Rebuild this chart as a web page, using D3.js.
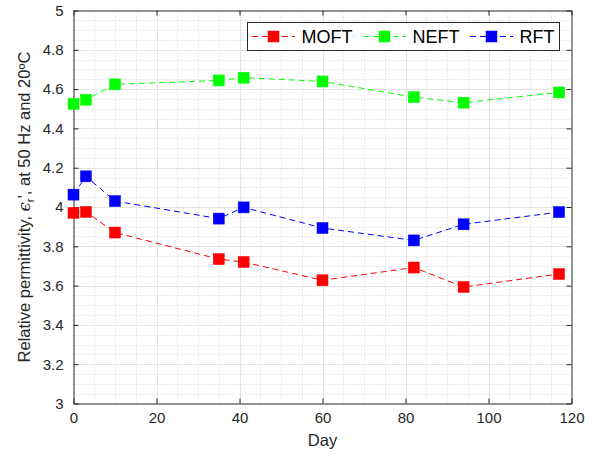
<!DOCTYPE html>
<html>
<head>
<meta charset="utf-8">
<script src="https://cdn.jsdelivr.net/npm/d3@7"></script>
<style>
  html, body { margin: 0; padding: 0; background: #fff; }
  svg { display: block; font-family: "Liberation Sans", Arial, Helvetica, sans-serif; }
</style>
</head>
<body>
<svg id="chart" width="595" height="457"></svg>
<script>
// Measurement days and relative permittivity of each fluid
const days = [0, 3, 10, 35, 41, 60, 82, 94, 117];
const moft = [3.970, 3.975, 3.870, 3.735, 3.720, 3.627, 3.692, 3.593, 3.659];
const neft = [4.525, 4.546, 4.624, 4.644, 4.658, 4.639, 4.559, 4.531, 4.583];
const rft  = [4.063, 4.156, 4.030, 3.941, 3.998, 3.893, 3.830, 3.912, 3.974];

const seriesNames = ["MOFT", "NEFT", "RFT"];
const seriesColors = ["#ff0000", "#00ff00", "#0000ff"];
const seriesValues = [moft, neft, rft];

const xTicks = [0, 20, 40, 60, 80, 100, 120];
const yTicks = [3, 3.2, 3.4, 3.6, 3.8, 4, 4.2, 4.4, 4.6, 4.8, 5];

const plotL = 73.5, plotR = 571.5, plotT = 10.5, plotB = 403.5;
const ink = "#262626";

const svg = d3.select("#chart");
const x = d3.scaleLinear().domain([0, 120]).range([plotL, plotR]);
const y = d3.scaleLinear().domain([3, 5]).range([plotB, plotT]);

// minor grid (dotted)
const grid = svg.append("g");
const xMinor = d3.range(0, 121, 5).filter(v => v % 20 !== 0);
const yMinor = d3.range(0, 41).map(i => 3 + i * 0.05).filter((v, i) => i % 4 !== 0);
grid.selectAll("line.xm").data(xMinor).join("line")
  .attr("x1", d => Math.round(x(d)) + 0.5).attr("x2", d => Math.round(x(d)) + 0.5)
  .attr("y1", plotT).attr("y2", plotB)
  .attr("stroke", "#d9d9d9").attr("stroke-width", 1).attr("stroke-dasharray", "1,2");
grid.selectAll("line.ym").data(yMinor).join("line")
  .attr("y1", d => Math.round(y(d)) + 0.5).attr("y2", d => Math.round(y(d)) + 0.5)
  .attr("x1", plotL).attr("x2", plotR)
  .attr("stroke", "#d9d9d9").attr("stroke-width", 1).attr("stroke-dasharray", "1,2");

// major grid (solid light)
grid.selectAll("line.xM").data(xTicks.slice(1, -1)).join("line")
  .attr("x1", d => Math.round(x(d)) + 0.5).attr("x2", d => Math.round(x(d)) + 0.5)
  .attr("y1", plotT).attr("y2", plotB)
  .attr("stroke", "#e3e3e3").attr("stroke-width", 1);
grid.selectAll("line.yM").data(yTicks.slice(1, -1)).join("line")
  .attr("y1", d => Math.round(y(d)) + 0.5).attr("y2", d => Math.round(y(d)) + 0.5)
  .attr("x1", plotL).attr("x2", plotR)
  .attr("stroke", "#e3e3e3").attr("stroke-width", 1);

// axes: ticks inward on all four sides
const tickLen = 5;
const fmt = d => (Math.round(d * 10) / 10).toString();
const axB = svg.append("g").attr("transform", `translate(0,${plotB})`)
  .call(d3.axisBottom(x).tickValues(xTicks).tickSizeInner(-tickLen).tickSizeOuter(0).tickPadding(9).tickFormat(fmt));
const axT = svg.append("g").attr("transform", `translate(0,${plotT})`)
  .call(d3.axisTop(x).tickValues(xTicks).tickSizeInner(-tickLen).tickSizeOuter(0).tickFormat(""));
const axL = svg.append("g").attr("transform", `translate(${plotL},0)`)
  .call(d3.axisLeft(y).tickValues(yTicks).tickSizeInner(-tickLen).tickSizeOuter(0).tickPadding(10).tickFormat(fmt));
const axR = svg.append("g").attr("transform", `translate(${plotR},0)`)
  .call(d3.axisRight(y).tickValues(yTicks).tickSizeInner(-tickLen).tickSizeOuter(0).tickFormat(""));
[axB, axT, axL, axR].forEach(g => {
  g.select(".domain").attr("stroke", ink).attr("stroke-width", 1);
  g.selectAll(".tick line").attr("stroke", ink).attr("stroke-width", 1);
  g.selectAll(".tick text").attr("fill", ink).attr("font-size", 15)
    .attr("font-family", "Liberation Sans, Arial, sans-serif");
});

// series: dashed lines with square markers
const ms = 11;
seriesValues.forEach((vals, si) => {
  const pts = days.map((d, i) => [d, vals[i]]);
  const g = svg.append("g");
  g.append("path")
    .attr("d", d3.line().x(p => x(p[0])).y(p => y(p[1]))(pts))
    .attr("fill", "none").attr("stroke", seriesColors[si]).attr("stroke-width", 1)
    .attr("stroke-dasharray", "6,4");
  g.selectAll("rect").data(pts).join("rect")
    .attr("x", p => x(p[0]) - ms / 2).attr("y", p => y(p[1]) - ms / 2)
    .attr("width", ms).attr("height", ms)
    .attr("fill", seriesColors[si]).attr("stroke", seriesColors[si]).attr("stroke-width", 0.5);
});

// axis titles
svg.append("text").attr("x", (plotL + plotR) / 2).attr("y", 446)
  .attr("text-anchor", "middle").attr("font-size", 16.5).attr("fill", ink).text("Day");

const yl = svg.append("text")
  .attr("transform", `translate(30,${(plotT + plotB) / 2}) rotate(-90)`)
  .attr("text-anchor", "middle").attr("font-size", 16.5).attr("fill", ink);
yl.append("tspan").text("Relative permittivity, ");
yl.append("tspan").attr("font-family", "DejaVu Serif, serif").attr("font-style", "italic").text("ϵ");
yl.append("tspan").attr("font-size", 11.5).attr("dy", 4).text("r");
yl.append("tspan").attr("dy", -4).text("', at 50 Hz and 20ºC");

// legend
const lg = svg.append("g");
lg.append("rect").attr("x", 247.5).attr("y", 22.5).attr("width", 312).attr("height", 28)
  .attr("fill", "#fff").attr("stroke", ink).attr("stroke-width", 1);
const legX = [252, 363, 470];
seriesNames.forEach((name, i) => {
  const x0 = legX[i], cy = 36.5;
  lg.append("line").attr("x1", x0).attr("x2", x0 + 43).attr("y1", cy).attr("y2", cy)
    .attr("stroke", seriesColors[i]).attr("stroke-width", 1).attr("stroke-dasharray", "6,4");
  lg.append("rect").attr("x", x0 + 21.5 - ms / 2).attr("y", cy - ms / 2).attr("width", ms).attr("height", ms)
    .attr("fill", seriesColors[i]).attr("stroke", seriesColors[i]).attr("stroke-width", 0.5);
  lg.append("text").attr("x", x0 + 49.5).attr("y", cy + 6.5).attr("font-size", 18).attr("fill", "#000").text(name);
});
</script>
</body>
</html>
